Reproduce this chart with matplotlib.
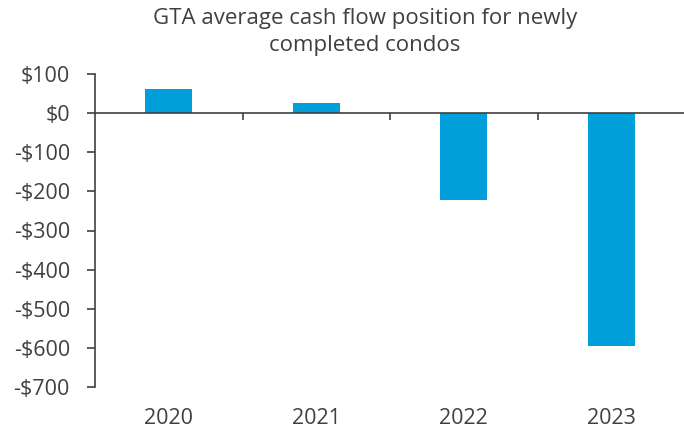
import numpy as np
import matplotlib
matplotlib.use("Agg")
import matplotlib.pyplot as plt
from matplotlib.ticker import FuncFormatter

years = ["2020", "2021", "2022", "2023"]
cash_flow = [61, 26, -222, -596]
y_ticks = [100, 0, -100, -200, -300, -400, -500, -600, -700]

plt.rcParams['font.family'] = ['Open Sans', 'DejaVu Sans']
txt = '#404040'
clr = '#009FDA'

fig = plt.figure(figsize=(6.84, 4.32), dpi=100)
ax = fig.add_axes([95/684, 45/432, 590/684, 313/432])

x = np.arange(len(years))
ax.bar(x, cash_flow, width=0.32, color=clr, zorder=2)

ax.set_xlim(-0.5, len(years) - 0.5)
ax.set_ylim(-700, 100)
ax.set_yticks(y_ticks)
ax.yaxis.set_major_formatter(FuncFormatter(lambda v, p: ("-$%d" % -v) if v < 0 else "$%d" % v))
ax.tick_params(axis='y', direction='out', length=6, width=1.2, color='#404040',
               labelsize=15.5, labelcolor=txt, pad=12)

# zero line with ticks between categories
for s in ['top', 'right']:
    ax.spines[s].set_visible(False)
ax.spines['left'].set_color('#404040')
ax.spines['left'].set_linewidth(1.2)
ax.spines['bottom'].set_position(('data', 0))
ax.spines['bottom'].set_color('#404040')
ax.spines['bottom'].set_linewidth(1.2)
ax.set_xticks([])
ax.set_xticks(x[:-1] + 0.5, minor=True)
ax.tick_params(axis='x', which='minor', direction='out', length=5, width=1.2, color='#404040')

# category labels along the bottom
sec = ax.secondary_xaxis('bottom')
sec.set_xticks(x)
sec.set_xticklabels(years)
sec.spines['bottom'].set_visible(False)
sec.tick_params(length=0, labelsize=15.5, labelcolor=txt, pad=15)

fig.text(365/684, 1 - 8/432, "GTA average cash flow position for newly\ncompleted condos",
         ha='center', va='top', fontsize=16, color=txt, linespacing=1.4)

fig.savefig("out.png", dpi=100)
